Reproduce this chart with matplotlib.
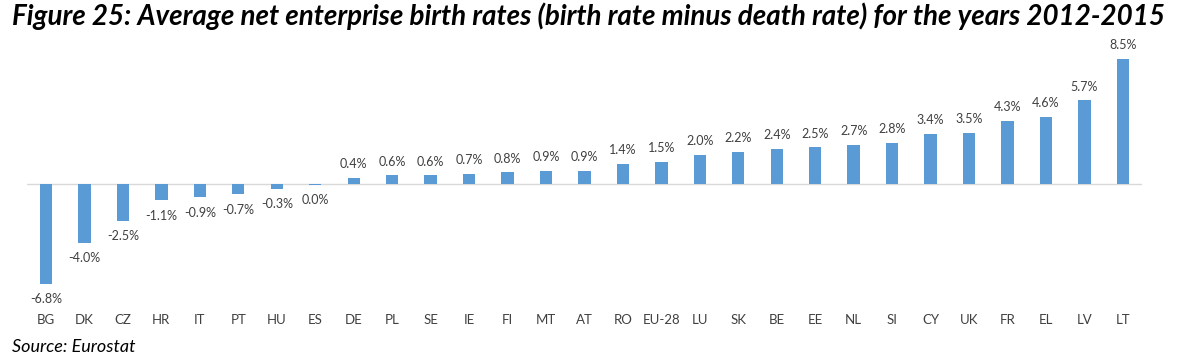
import matplotlib.pyplot as plt

countries = ["BG", "DK", "CZ", "HR", "IT", "PT", "HU", "ES", "DE", "PL",
             "SE", "IE", "FI", "MT", "AT", "RO", "EU-28", "LU", "SK", "BE",
             "EE", "NL", "SI", "CY", "UK", "FR", "EL", "LV", "LT"]
net_rates = [-6.8, -4.0, -2.5, -1.1, -0.9, -0.7, -0.3, -0.04, 0.4, 0.6,
             0.6, 0.7, 0.8, 0.9, 0.9, 1.4, 1.5, 2.0, 2.2, 2.4,
             2.5, 2.7, 2.8, 3.4, 3.5, 4.3, 4.6, 5.7, 8.5]

bar_color = "#5B9BD5"
label_color = "#404040"


def main():
    fig = plt.figure(figsize=(11.79, 3.56), dpi=100)
    ax = fig.add_axes([0.0227, 0.173, 0.946, 0.681])

    x = range(len(countries))
    ax.bar(x, net_rates, width=0.32, color=bar_color, zorder=2)
    ax.axhline(0, color="#D9D9D9", linewidth=1.0, zorder=1)

    for i, v in enumerate(net_rates):
        txt = f"{v:.1f}%".replace("-0.0%", "0.0%")
        off = 10 if v > 0 else -11
        ax.annotate(txt, (i, v), xytext=(0, off), textcoords="offset points",
                    ha="center", va="center", fontsize=9,
                    color=label_color, family="Lato", annotation_clip=False)

    ax.set_xlim(-0.5, 28.5)
    ax.set_ylim(-7.5, 9.0)
    ax.set_xticks(list(x))
    ax.set_xticklabels(countries, fontsize=9.5, color=label_color, family="Lato")
    ax.tick_params(axis="x", length=0, pad=14)
    ax.set_yticks([])
    for s in ax.spines.values():
        s.set_visible(False)

    fig.text(0.01, 0.955,
             "Figure 25: Average net enterprise birth rates (birth rate minus death rate) for the years 2012-2015",
             fontsize=20, fontweight="bold", style="italic", family="Lato",
             ha="left", va="center")
    fig.text(0.01, 0.025, "Source: Eurostat", fontsize=13, style="italic",
             family="Lato", ha="left", va="center")

    fig.savefig("out.png", dpi=100)


if __name__ == "__main__":
    main()
